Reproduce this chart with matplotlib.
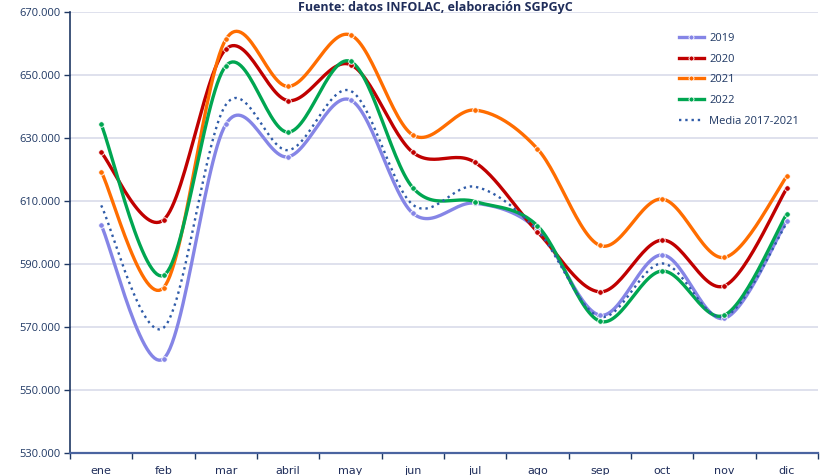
import numpy as np
import matplotlib
matplotlib.use("Agg")
import matplotlib.pyplot as plt
from matplotlib.ticker import FuncFormatter, FixedLocator

months = ["ene", "feb", "mar", "abril", "may", "jun", "jul", "ago", "sep", "oct", "nov", "dic"]
s2019 = [602.4, 560.0, 634.3, 624.0, 642.0, 606.1, 609.3, 601.0, 573.8, 592.9, 572.8, 603.8]
s2020 = [625.4, 604.0, 658.1, 641.8, 653.2, 625.4, 622.2, 600.2, 581.2, 597.6, 583.1, 614.0]
s2021 = [619.3, 582.5, 661.2, 646.3, 662.6, 630.9, 638.8, 626.5, 595.9, 610.6, 592.1, 617.8]
s2022 = [634.3, 586.4, 652.8, 631.8, 654.2, 614.2, 609.8, 602.1, 571.9, 587.8, 573.8, 605.9]
media = [608.6, 569.8, 640.5, 626.1, 644.9, 608.8, 614.5, 600.6, 573.3, 590.2, 573.3, 603.0]
yticks = [530, 550, 570, 590, 610, 630, 650, 670]
title = "Fuente: datos INFOLAC, elaboración SGPGyC"

series = [
    ("2019", s2019, "#8585E6", 2.4, "-"),
    ("2020", s2020, "#C00000", 2.4, "-"),
    ("2021", s2021, "#FF6D00", 2.4, "-"),
    ("2022", s2022, "#00A651", 2.4, "-"),
    ("Media 2017-2021", media, "#2F5BA8", 1.7, ":"),
]

def smooth(xs, ys, n=30):
    xs = np.asarray(xs, float); ys = np.asarray(ys, float)
    P = np.column_stack([xs, ys])
    out = []
    for i in range(len(P) - 1):
        p0 = P[i - 1] if i > 0 else P[i]
        p1 = P[i]; p2 = P[i + 1]
        p3 = P[i + 2] if i + 2 < len(P) else P[i + 1]
        c1 = p1 + (p2 - p0) / 6.0
        c2 = p2 - (p3 - p1) / 6.0
        t = np.linspace(0, 1, n)[:, None]
        seg = (1 - t) ** 3 * p1 + 3 * (1 - t) ** 2 * t * c1 + 3 * (1 - t) * t ** 2 * c2 + t ** 3 * p2
        out.append(seg if i == 0 else seg[1:])
    seg = np.vstack(out)
    return seg[:, 0], seg[:, 1]

fig = plt.figure(figsize=(8.21, 4.75), dpi=100)
ax = fig.add_axes([0.0853, 0.0455, 0.911, 0.930])

x = np.arange(len(months))
handles = []
for name, vals, col, lw, ls in series:
    sx, sy = smooth(x, vals)
    ax.plot(sx, sy, color=col, lw=lw, ls=ls, solid_capstyle="round", zorder=3)
    if ls == "-":
        ax.plot(x, vals, ls="none", marker="o", ms=4.0, mfc=col, mec="white", mew=0.6, zorder=4)
    h, = ax.plot([], [], color=col, lw=lw, ls=ls, marker="o" if ls == "-" else None,
                 ms=3.6, mfc=col, mec="white", mew=0.6)
    handles.append(h)

ax.set_xlim(-0.5, len(months) - 0.5)
ax.set_ylim(530, 670)
ax.yaxis.set_major_locator(FixedLocator(yticks))
ax.yaxis.set_major_formatter(FuncFormatter(lambda v, p: f"{int(v)}.000"))
ax.set_xticks(x)
ax.set_xticklabels(months)
ax.set_xticks(np.arange(-0.5, len(months)), minor=True)
ax.tick_params(axis="x", which="major", length=0, pad=9, labelsize=8, labelcolor="#1F2D5A")
ax.tick_params(axis="x", which="minor", length=4, direction="out", color="#1F3864", width=1)
ax.tick_params(axis="y", length=4, direction="out", color="#1F3864", width=1,
               labelsize=8, labelcolor="#1F3864", pad=3)
for lab in ax.get_xticklabels():
    lab.set_family(["Liberation Sans Narrow", "DejaVu Sans"])
for lab in ax.get_yticklabels():
    lab.set_family(["Open Sans", "DejaVu Sans"])

ax.grid(axis="y", color="#D9DCEA", lw=1.2, zorder=0)
ax.set_axisbelow(True)
for s in ["top", "right"]:
    ax.spines[s].set_visible(False)
ax.spines["left"].set_color("#1F3864")
ax.spines["left"].set_linewidth(1.2)
ax.spines["bottom"].set_color("#4A64A0")
ax.spines["bottom"].set_linewidth(1.6)

leg = fig.legend(handles, [s[0] for s in series], loc="upper left",
                 bbox_to_anchor=(0.815, 0.952), frameon=False, numpoints=1,
                 handlelength=2.2, handletextpad=0.5, labelspacing=0.88,
                 prop={"family": ["Open Sans", "DejaVu Sans"], "size": 8})
for t in leg.get_texts():
    t.set_color("#1F3864")

fig.text(0.53, 0.985, title, ha="center", va="center", fontsize=9, fontweight="bold",
         color="#1F2D5A", family=["Open Sans", "DejaVu Sans"])

fig.savefig("out.png", dpi=100)
